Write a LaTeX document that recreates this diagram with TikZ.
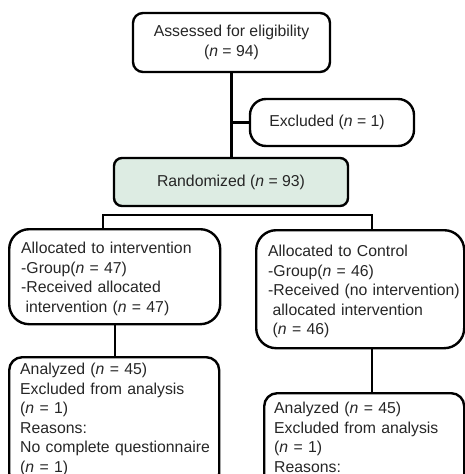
\documentclass[tikz,border=0pt]{standalone}
\usepackage{fontspec}
\setmainfont{Liberation Sans}
\usetikzlibrary{positioning}
\definecolor{randfill}{RGB}{221,236,227}
\newcommand{\nval}[1]{(\textit{n} = #1)}
\newcommand{\ind}{\hspace*{4.5pt}}

\begin{document}
\begin{tikzpicture}[
  x=1pt, y=-1pt,
  stage/.style={draw, line width=2.4pt, rounded corners=#1, text=black!85,
    font=\fontsize{15.8}{19.5}\selectfont, inner sep=0pt},
  stage/.default=10pt,
  arm/.style={stage=#1, anchor=north west, align=left, inner xsep=12pt, inner ysep=0pt},
  link/.style={line width=2.4pt}
]
\useasboundingbox (0,0) rectangle (465,474);
\clip (0,0) rectangle (465,474);

% Enrolment
\node[stage, minimum width=197pt, minimum height=59pt, align=center] (assess) at (231.5,42.5) {Assessed for eligibility\\\nval{94}};
\node[stage=16pt, minimum width=164pt, minimum height=47pt] (excl) at (332,122.5) {Excluded \nval{1}\hspace*{10pt}};
\node[stage=8pt, minimum width=234pt, minimum height=48pt, fill=randfill] (rand) at (231,182) {Randomized \nval{93}};

% Allocation
\node[arm=20pt, text width=187pt, text height=24.5pt, text depth=70.5pt] (int) at (8,228)
  {Allocated to intervention\\-Group\nval{47}\\-Received allocated\\\ind intervention \nval{47}};
\node[arm=20pt, text width=184pt, text height=26.5pt, text depth=91.5pt] (ctl) at (255,229)
  {Allocated to Control\\-Group\nval{46}\\\mbox{-Received (no intervention)}\\\ind allocated intervention\\\ind\nval{46}};

% Analysis
\node[arm=13pt, inner xsep=11pt, text width=188pt, text height=17.5pt, text depth=111.5pt] (intan) at (8,356)
  {Analyzed \nval{45}\\Excluded from analysis\\\nval{1}\\Reasons:\\\mbox{No complete questionnaire}\\\nval{1}};
\node[arm=13pt, inner xsep=10pt, text width=180pt, text height=20.5pt, text depth=100pt] (ctlan) at (263,392)
  {Analyzed \nval{45}\\Excluded from analysis\\\nval{1}\\Reasons:};

% Lines
\coordinate (split) at (236.5,215);
\draw[link] (assess.south) -- (assess.south |- rand.north);
\draw[link] (assess.south |- excl.west) -- (excl.west);
\draw[link] ([xshift=-11.5pt]int.north) |- (split) -| ([xshift=12pt]ctl.north);
\draw[link] (int.south) -- (int.south |- intan.north);
\draw[link] ([xshift=12pt]ctl.south) -- ([xshift=12pt]ctl.south |- ctlan.north);

\end{tikzpicture}
\end{document}
